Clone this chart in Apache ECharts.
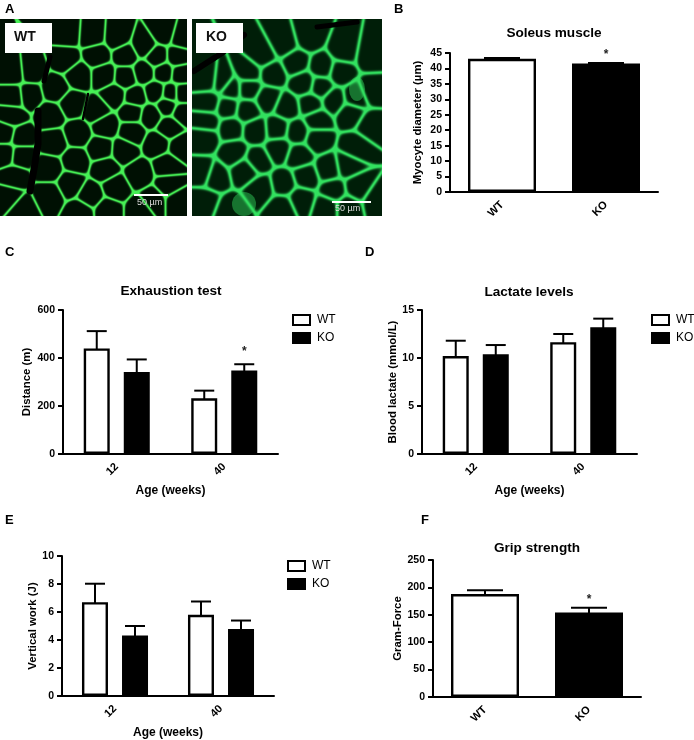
<!DOCTYPE html>
<html><head><meta charset="utf-8">
<style>html,body{margin:0;padding:0;background:#fff}#c{width:694px;height:740px}</style>
<script src="https://cdn.jsdelivr.net/npm/echarts@6/dist/echarts.min.js"></script>
</head><body><div id="c"></div>
<script>
// ---- data ----
const groups = ['WT', 'KO'];
const ages = ['12', '40'];
const soleusMean = [43.1, 41.6];
const soleusTop = [43.4, 41.8];
const gripMean = [188, 154];
const gripTop = [195, 163];
const exhaustWT = [440, 232];
const exhaustWTTop = [512, 264];
const exhaustKO = [342, 348];
const exhaustKOTop = [394, 374];
const lactateWT = [10.2, 11.65];
const lactateWTTop = [11.8, 12.5];
const lactateKO = [10.4, 13.2];
const lactateKOTop = [11.35, 14.1];
const workWT = [6.7, 5.8];
const workWTTop = [8.02, 6.75];
const workKO = [4.33, 4.78];
const workKOTop = [5.0, 5.39];

// micrograph cell centres
const wtCells = [[200,100],[275,105],[350,110],[430,135],[490,95],[545,110],[530,170],[470,170],[375,165],[290,165],[195,175],[90,210],[40,215],[235,225],[310,225],[375,230],[430,215],[490,215],[540,220],[165,265],[340,285],[290,330],[215,310],[405,290],[465,275],[510,280],[545,280],[40,290],[85,285],[35,345],[150,345],[230,400],[315,375],[395,335],[450,345],[500,315],[545,335],[60,410],[15,400],[505,380],[395,395],[160,425],[300,445],[370,450],[540,440],[470,430],[60,465],[15,460],[145,505],[225,480],[415,520],[315,505],[500,495],[40,530],[210,550],[345,560],[145,585],[270,585],[505,555],[25,590],[65,625],[240,635],[320,630],[460,600],[530,600],[420,630]];
const koCells = [[925,110],[850,130],[785,165],[885,185],[815,220],[745,215],[665,245],[620,240],[690,265],[745,265],[800,295],[910,250],[965,200],[1030,150],[1110,165],[1020,215],[960,260],[1000,300],[1065,290],[1115,270],[625,305],[680,320],[740,330],[860,320],[930,310],[950,360],[1050,340],[1110,375],[620,365],[690,385],[765,390],[830,385],[890,395],[950,415],[1065,440],[615,410],[700,455],[770,480],[835,445],[895,465],[985,505],[1040,495],[735,510],[610,520],[640,530],[610,600],[780,565],[850,550],[915,530],[845,620],[900,595],[1000,570],[1070,560],[1130,600],[980,620],[690,630],[1040,620]];

// ---- layout ----
const TXT = '"Liberation Sans", Arial, sans-serif';
const panels = [
  {l:450,t:53,w:208,h:139},
  {l:63,t:310,w:215,h:144},
  {l:422,t:310,w:215,h:144},
  {l:62,t:556,w:212,h:141},
  {l:433,t:560,w:208,h:137}
];

function micrograph(cells, ox, oy, w, h, halfWidth, sharp, dark, bright, paint) {
  const cv = document.createElement('canvas');
  cv.width = w; cv.height = h;
  const g = cv.getContext('2d');
  const img = g.createImageData(w, h);
  const pts = cells.map(c => [c[0] / 3 - ox, c[1] / 3 - oy]);
  for (let y = 0; y < h; y++) for (let x = 0; x < w; x++) {
    let a = 0, da = 1e9;
    const ds = pts.map((p, i) => {
      const d = (x - p[0]) * (x - p[0]) + (y - p[1]) * (y - p[1]);
      if (d < da) { da = d; a = i; }
      return d;
    });
    let sum = 0;
    for (let j = 0; j < pts.length; j++) {
      if (j === a) continue;
      const dist = (ds[j] - da) / (2 * Math.hypot(pts[a][0] - pts[j][0], pts[a][1] - pts[j][1]));
      sum += Math.exp(-sharp * dist);
    }
    const edge = -Math.log(sum) / sharp;          // soft distance to the cell wall
    const t = edge <= 0 ? 1 : Math.exp(-(edge * edge) / (halfWidth * halfWidth));
    const k = (y * w + x) * 4;
    img.data[k] = dark[0] + (bright[0] - dark[0]) * t;
    img.data[k + 1] = dark[1] + (bright[1] - dark[1]) * t;
    img.data[k + 2] = dark[2] + (bright[2] - dark[2]) * t;
    img.data[k + 3] = 255;
  }
  g.putImageData(img, 0, 0);
  paint(g);
  return cv;
}
function band(g, pts, width, color) {
  g.strokeStyle = color; g.lineWidth = width; g.lineCap = 'round'; g.lineJoin = 'round';
  g.beginPath();
  pts.forEach((p, i) => i ? g.lineTo(p[0], p[1]) : g.moveTo(p[0], p[1]));
  g.stroke();
}
const wtImage = micrograph(wtCells, 0, 19, 187, 197, 1.3, 0.8, [0,16,3], [70,240,85], g => {
  band(g, [[38,92],[38,125],[34,150],[30,172]], 7, '#000');
  band(g, [[50,38],[44,62]], 5, '#000');
  band(g, [[88,75],[83,100]], 2.5, '#000');
});
const koImage = micrograph(koCells, 192, 19, 190, 197, 1.9, 0.7, [0,30,8], [50,225,95], g => {
  band(g, [[2,52],[30,34],[52,16]], 6, '#000');
  band(g, [[125,8],[165,3]], 5, '#000');
  g.fillStyle = 'rgba(50,220,95,0.45)';
  g.beginPath(); g.ellipse(52, 185, 12, 12, 0, 0, 7); g.fill();
  g.beginPath(); g.ellipse(165, 70, 8, 12, 0, 0, 7); g.fill();
});

function errSeries(gridIndex, tops, offset, stars, starValues) {
  return {
    type: 'custom', xAxisIndex: gridIndex, yAxisIndex: gridIndex, silent: true, z: 1,
    data: tops.map((v, i) => [i, v]),
    encode: {x: 0, y: 1},
    renderItem(params, api) {
      const i = api.value(0), top = api.coord([i, api.value(1)]), base = api.coord([i, 0]);
      const x = top[0] + offset, cap = offset === 0 ? 18 : 10;
      const kids = [
        {type:'line', shape:{x1:x, y1:top[1], x2:x, y2:base[1]}, style:{stroke:'#000', lineWidth:2}},
        {type:'line', shape:{x1:x - cap, y1:top[1], x2:x + cap, y2:top[1]}, style:{stroke:'#000', lineWidth:2}}
      ];
      if (stars && stars[i]) {
        const p = api.coord([i, starValues[i]]);
        kids.push({type:'text', style:{text:'*', x:x, y:p[1], fill:'#222', font:'bold 12px ' + TXT, textAlign:'center', textVerticalAlign:'middle'}});
      }
      return {type:'group', children:kids};
    }
  };
}
function barSeries(name, gridIndex, values, fill) {
  return {
    type:'bar', name, xAxisIndex:gridIndex, yAxisIndex:gridIndex, data:values, z:2,
    barWidth:26, barGap:'54%',
    itemStyle:{color:fill, borderColor:'#000', borderWidth:2.4}
  };
}
function singleBars(gridIndex, values) {
  return {
    type:'bar', xAxisIndex:gridIndex, yAxisIndex:gridIndex, z:2, barWidth:68,
    data: values.map((v, i) => ({value:v, itemStyle:{color:i ? '#000' : '#fff', borderColor:'#000', borderWidth:2.4}}))
  };
}
const xA = (i, cats, name) => ({
  type:'category', gridIndex:i, data:cats,
  axisTick:{alignWithLabel:true, length:5, lineStyle:{color:'#000', width:2}},
  axisLine:{lineStyle:{color:'#000', width:2}},
  axisLabel:{rotate:45, color:'#000', fontFamily:TXT, fontWeight:'bold', fontSize:11, margin:11, interval:0},
  name:name || '', nameLocation:'middle', nameGap:31,
  nameTextStyle:{color:'#000', fontFamily:TXT, fontWeight:'bold', fontSize:12}
});
const yA = (i, max, interval, name, gap) => ({
  type:'value', gridIndex:i, min:0, max, interval,
  splitLine:{show:false},
  axisLine:{show:true, onZero:false, lineStyle:{color:'#000', width:2}},
  axisTick:{show:true, length:5, lineStyle:{color:'#000', width:2}},
  axisLabel:{color:'#000', fontFamily:TXT, fontWeight:'bold', fontSize:10.5, margin:8},
  name, nameLocation:'middle', nameGap:gap,
  nameTextStyle:{color:'#000', fontFamily:TXT, fontWeight:'bold', fontSize:11.4}
});
const legendAt = (left, top) => ({
  left, top, orient:'vertical', data:['WT','KO'], itemWidth:17, itemHeight:10, itemGap:6, icon:'rect',
  selectedMode:false, textStyle:{color:'#000', fontFamily:TXT, fontSize:12, padding:[0,0,0,2]}, padding:0
});
const title = (text, cx, y) => ({
  text, left:cx, top:y, textAlign:'center', padding:0,
  textStyle:{color:'#000', fontFamily:TXT, fontWeight:'bold', fontSize:13.6}
});
const letter = (text, x, y) => ({type:'text', x, y, style:{text, fill:'#000', font:'bold 13px ' + TXT}});

const option = {
  animation:false, backgroundColor:'#fff',
  title:[title('Soleus muscle',554,26), title('Exhaustion test',171,284), title('Lactate levels',529,285), title('Grip strength',537,541)],
  grid:panels.map(p => ({left:p.l, top:p.t, width:p.w, height:p.h, containLabel:false})),
  xAxis:[xA(0,groups), xA(1,ages,'Age (weeks)'), xA(2,ages,'Age (weeks)'), xA(3,ages,'Age (weeks)'), xA(4,groups)],
  yAxis:[yA(0,45,5,'Myocyte diameter (\u00b5m)',27), yA(1,600,200,'Distance (m)',31), yA(2,15,5,'Blood lactate (mmol/L)',24), yA(3,10,2,'Vertical work (J)',23), yA(4,250,50,'Gram-Force',24)],
  legend:[legendAt(292,314), legendAt(651,314), legendAt(287,560)],
  series:[
    singleBars(0,soleusMean), errSeries(0,soleusTop,0,[false,true],[44.4,44.4]),
    barSeries('WT',1,exhaustWT,'#fff'), barSeries('KO',1,exhaustKO,'#000'),
    errSeries(1,exhaustWTTop,-20), errSeries(1,exhaustKOTop,20,[false,true],[0,427]),
    barSeries('WT',2,lactateWT,'#fff'), barSeries('KO',2,lactateKO,'#000'),
    errSeries(2,lactateWTTop,-20), errSeries(2,lactateKOTop,20),
    barSeries('WT',3,workWT,'#fff'), barSeries('KO',3,workKO,'#000'),
    errSeries(3,workWTTop,-20), errSeries(3,workKOTop,20),
    singleBars(4,gripMean), errSeries(4,gripTop,0,[false,true],[0,178])
  ],
  graphic:{elements:[
    {type:'image', x:0, y:19, style:{image:wtImage, x:0, y:0, width:187, height:197}},
    {type:'image', x:192, y:19, style:{image:koImage, x:0, y:0, width:190, height:197}},
    {type:'rect', shape:{x:5,y:23,width:47,height:30}, style:{fill:'#fff'}},
    {type:'rect', shape:{x:196,y:23,width:47,height:30}, style:{fill:'#fff'}},
    {type:'text', x:14, y:30, style:{text:'WT', fill:'#111', font:'bold 14px ' + TXT}},
    {type:'text', x:206, y:30, style:{text:'KO', fill:'#111', font:'bold 14px ' + TXT}},
    {type:'rect', shape:{x:134,y:194,width:34,height:2}, style:{fill:'#fff'}},
    {type:'rect', shape:{x:332,y:201,width:39,height:2}, style:{fill:'#fff'}},
    {type:'text', x:137, y:198, style:{text:'50 \u00b5m', fill:'#ddd', font:'9px ' + TXT}},
    {type:'text', x:335, y:204, style:{text:'50 \u00b5m', fill:'#ddd', font:'9px ' + TXT}},
    letter('A',5,3), letter('B',394,3), letter('C',5,246), letter('D',365,246), letter('E',5,514), letter('F',421,514)
  ]}
};
echarts.init(document.getElementById('c'), null, {renderer:'canvas'}).setOption(option);
</script></body></html>
